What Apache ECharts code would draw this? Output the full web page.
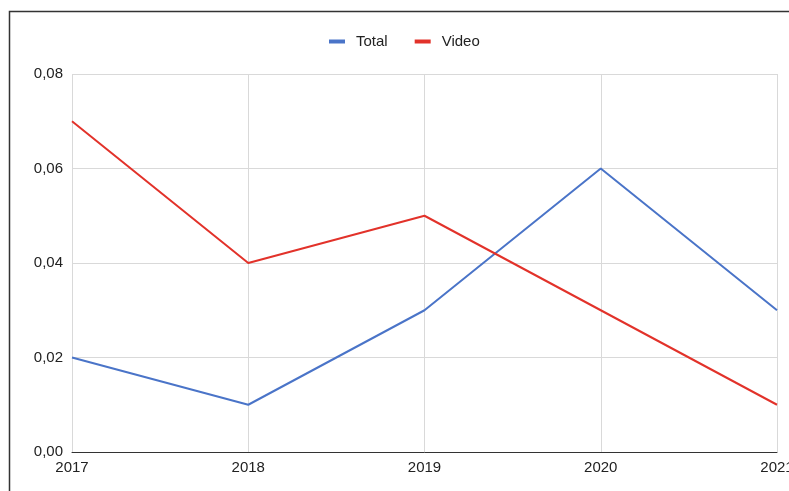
<!DOCTYPE html>
<html><head><meta charset="utf-8">
<script src="https://cdn.jsdelivr.net/npm/echarts@6/dist/echarts.min.js"></script>
<style>html,body{margin:0;padding:0;background:#fff;overflow:hidden}#c{width:789px;height:491px}</style>
</head><body><div id="c"></div>
<script>
const categories = ['2017','2018','2019','2020','2021'];
const totalValues = [0.02, 0.01, 0.03, 0.06, 0.03];
const videoValues = [0.07, 0.04, 0.05, 0.03, 0.01];
const yTicks = [0, 0.02, 0.04, 0.06, 0.08];

const chart = echarts.init(document.getElementById('c'), null, {renderer:'canvas'});
const font = 'Liberation Sans, Arial, sans-serif';
chart.setOption({
  animation:false,
  textStyle:{fontFamily:font},
  graphic:[{type:'rect', shape:{x:9.5,y:11.5,width:900,height:600}, style:{fill:'none',stroke:'#333',lineWidth:1.5}, z:-1}],
  legend:{top:34, left:329, padding:0, itemWidth:16, itemHeight:4, itemGap:27, icon:'rect',
    textStyle:{fontSize:15,color:'#222',fontFamily:font,padding:[0,0,0,6]},
    data:['Total','Video']},
  grid:{left:72,right:12,top:74,bottom:39,containLabel:false,outerBoundsMode:'none'},
  xAxis:{type:'category',data:categories,boundaryGap:false,
    axisLine:{lineStyle:{color:'#333',width:1}},axisTick:{show:false},
    axisLabel:{fontSize:15,color:'#222',margin:8,fontFamily:font,hideOverlap:false},
    splitLine:{show:true,lineStyle:{color:'#d9d9d9',width:1}}},
  yAxis:{type:'value',min:yTicks[0],max:yTicks[yTicks.length-1],interval:0.02,
    axisLine:{show:false},axisTick:{show:false},
    axisLabel:{fontSize:15,color:'#222',margin:9,fontFamily:font,formatter:v=>v.toFixed(2).replace('.',',')},
    splitLine:{lineStyle:{color:'#d9d9d9',width:1}}},
  series:[
    {name:'Total',type:'line',data:totalValues,showSymbol:false,lineStyle:{color:'#4a74c8',width:2},itemStyle:{color:'#4a74c8'}},
    {name:'Video',type:'line',data:videoValues,showSymbol:false,lineStyle:{color:'#e2322a',width:2},itemStyle:{color:'#e2322a'}}
  ]
});
</script></body></html>
